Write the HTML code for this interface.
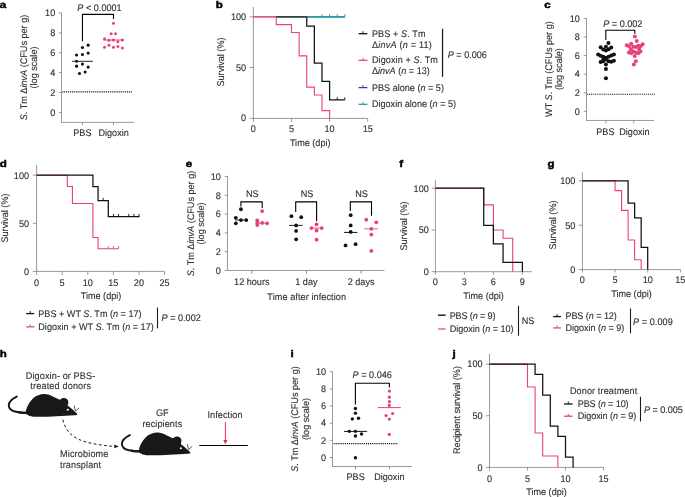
<!DOCTYPE html>
<html lang="en">
<head>
<meta charset="utf-8">
<title>Figure</title>
<style>
html,body{margin:0;padding:0;background:#fff;}
body{width:685px;height:497px;overflow:hidden;}
svg{display:block;}
svg text{font-family:"Liberation Sans",Arial,Helvetica,sans-serif;font-size:9.6px;fill:#303030;stroke:#303030;stroke-width:0.12px;text-rendering:geometricPrecision;}
</style>
</head>
<body>
<svg width="685" height="497" viewBox="0 0 685 497">
<rect x="0" y="0" width="685" height="497" fill="#ffffff"/>
<text style="font-weight:bold;font-size:9.8px;fill:#000;stroke:#000;stroke-width:0.45px" transform="translate(-0.30 7.60) scale(1.18 1)">a</text>
<line x1="61.50" y1="12.60" x2="61.50" y2="122.40" stroke="#787878" stroke-width="0.75" />
<line x1="61.20" y1="122.40" x2="134.00" y2="122.40" stroke="#787878" stroke-width="0.75" />
<line x1="58.70" y1="112.40" x2="61.50" y2="112.40" stroke="#787878" stroke-width="0.75" />
<text text-anchor="end" transform="translate(55.20 115.70) scale(0.948 1)">0</text>
<line x1="58.70" y1="92.52" x2="61.50" y2="92.52" stroke="#787878" stroke-width="0.75" />
<text text-anchor="end" transform="translate(55.20 95.82) scale(0.948 1)">2</text>
<line x1="58.70" y1="72.64" x2="61.50" y2="72.64" stroke="#787878" stroke-width="0.75" />
<text text-anchor="end" transform="translate(55.20 75.94) scale(0.948 1)">4</text>
<line x1="58.70" y1="52.76" x2="61.50" y2="52.76" stroke="#787878" stroke-width="0.75" />
<text text-anchor="end" transform="translate(55.20 56.06) scale(0.948 1)">6</text>
<line x1="58.70" y1="32.88" x2="61.50" y2="32.88" stroke="#787878" stroke-width="0.75" />
<text text-anchor="end" transform="translate(55.20 36.18) scale(0.948 1)">8</text>
<line x1="58.70" y1="13.00" x2="61.50" y2="13.00" stroke="#787878" stroke-width="0.75" />
<text text-anchor="end" transform="translate(55.20 16.30) scale(0.948 1)">10</text>
<line x1="82.40" y1="122.40" x2="82.40" y2="125.40" stroke="#787878" stroke-width="0.75" />
<line x1="113.40" y1="122.40" x2="113.40" y2="125.40" stroke="#787878" stroke-width="0.75" />
<line x1="62.40" y1="91.90" x2="132.20" y2="91.90" stroke="#000" stroke-width="1.35" stroke-dasharray="0.95 0.95"/>
<text text-anchor="middle" transform="translate(82.40 135.70) scale(0.948 1)">PBS</text>
<text text-anchor="middle" transform="translate(113.60 135.70) scale(0.948 1)">Digoxin</text>
<text text-anchor="middle" transform="translate(99.50 10.80) scale(0.948 1)"><tspan font-style="italic">P</tspan> &lt; 0.0001</text>
<path d="M82.45,41.20L82.45,14.40L113.50,14.40L113.50,19.00" stroke="#000" stroke-width="1.1" fill="none" />
<circle cx="88.15" cy="45.14" r="1.55" fill="#111111"/>
<circle cx="82.45" cy="47.48" r="1.55" fill="#111111"/>
<circle cx="88.15" cy="53.08" r="1.55" fill="#111111"/>
<circle cx="82.45" cy="54.49" r="1.55" fill="#111111"/>
<circle cx="76.56" cy="54.95" r="1.55" fill="#111111"/>
<circle cx="76.56" cy="61.31" r="1.55" fill="#111111"/>
<circle cx="82.45" cy="64.11" r="1.55" fill="#111111"/>
<circle cx="76.56" cy="66.17" r="1.55" fill="#111111"/>
<circle cx="88.15" cy="67.10" r="1.55" fill="#111111"/>
<circle cx="85.16" cy="71.96" r="1.55" fill="#111111"/>
<circle cx="79.46" cy="73.46" r="1.55" fill="#111111"/>
<line x1="72.10" y1="61.30" x2="92.90" y2="61.30" stroke="#222" stroke-width="1.0" />
<circle cx="113.48" cy="23.21" r="1.5" fill="#e8407c"/>
<circle cx="111.14" cy="33.68" r="1.5" fill="#e8407c"/>
<circle cx="115.53" cy="33.87" r="1.5" fill="#e8407c"/>
<circle cx="104.50" cy="38.64" r="1.5" fill="#e8407c"/>
<circle cx="108.99" cy="40.32" r="1.5" fill="#e8407c"/>
<circle cx="113.48" cy="40.04" r="1.5" fill="#e8407c"/>
<circle cx="117.87" cy="41.72" r="1.5" fill="#e8407c"/>
<circle cx="122.36" cy="40.04" r="1.5" fill="#e8407c"/>
<circle cx="104.50" cy="47.33" r="1.5" fill="#e8407c"/>
<circle cx="108.99" cy="45.36" r="1.5" fill="#e8407c"/>
<circle cx="113.48" cy="47.33" r="1.5" fill="#e8407c"/>
<circle cx="117.87" cy="46.39" r="1.5" fill="#e8407c"/>
<circle cx="122.36" cy="47.98" r="1.5" fill="#e8407c"/>
<line x1="103.38" y1="40.04" x2="123.48" y2="40.04" stroke="#e8407c" stroke-width="1.0" />
<text text-anchor="middle" transform="translate(26.70 67.50) rotate(-90) scale(0.948 1)"><tspan font-style="italic">S</tspan>. Tm Δ<tspan font-style="italic">invA</tspan> (CFUs per g)</text>
<text text-anchor="middle" transform="translate(36.60 67.50) rotate(-90) scale(0.948 1)">(log scale)</text>
<text style="font-weight:bold;font-size:9.8px;fill:#000;stroke:#000;stroke-width:0.45px" transform="translate(215.80 7.60) scale(1.18 1)">b</text>
<line x1="253.40" y1="7.00" x2="253.40" y2="118.40" stroke="#787878" stroke-width="0.75" />
<line x1="253.10" y1="118.40" x2="367.70" y2="118.40" stroke="#787878" stroke-width="0.75" />
<line x1="249.60" y1="118.40" x2="253.40" y2="118.40" stroke="#787878" stroke-width="0.75" />
<text text-anchor="end" transform="translate(246.10 121.40) scale(0.948 1)">0</text>
<line x1="249.60" y1="67.60" x2="253.40" y2="67.60" stroke="#787878" stroke-width="0.75" />
<text text-anchor="end" transform="translate(246.10 70.60) scale(0.948 1)">50</text>
<line x1="249.60" y1="16.80" x2="253.40" y2="16.80" stroke="#787878" stroke-width="0.75" />
<text text-anchor="end" transform="translate(246.10 19.80) scale(0.948 1)">100</text>
<line x1="253.40" y1="118.40" x2="253.40" y2="121.90" stroke="#787878" stroke-width="0.75" />
<text text-anchor="middle" transform="translate(253.40 132.20) scale(0.948 1)">0</text>
<line x1="291.50" y1="118.40" x2="291.50" y2="121.90" stroke="#787878" stroke-width="0.75" />
<text text-anchor="middle" transform="translate(291.50 132.20) scale(0.948 1)">5</text>
<line x1="329.60" y1="118.40" x2="329.60" y2="121.90" stroke="#787878" stroke-width="0.75" />
<text text-anchor="middle" transform="translate(329.60 132.20) scale(0.948 1)">10</text>
<line x1="367.70" y1="118.40" x2="367.70" y2="121.90" stroke="#787878" stroke-width="0.75" />
<text text-anchor="middle" transform="translate(367.70 132.20) scale(0.948 1)">15</text>
<text text-anchor="middle" transform="translate(310.20 145.70) scale(0.948 1)">Time (dpi)</text>
<text text-anchor="middle" transform="translate(224.00 62.00) rotate(-90) scale(0.948 1)">Survival (%)</text>
<path d="M306.74,16.80L344.84,16.80" stroke="#4b3590" stroke-width="0.6" fill="none" stroke-linejoin="miter"/>
<path d="M306.74,16.80L344.84,16.80" stroke="#239aa2" stroke-width="1.25" fill="none" stroke-linejoin="miter"/>
<line x1="321.98" y1="16.80" x2="321.98" y2="14.10" stroke="#239aa2" stroke-width="0.9" />
<line x1="329.60" y1="16.80" x2="329.60" y2="14.10" stroke="#239aa2" stroke-width="0.9" />
<line x1="337.22" y1="16.80" x2="337.22" y2="14.10" stroke="#239aa2" stroke-width="0.9" />
<line x1="344.84" y1="16.80" x2="344.84" y2="14.10" stroke="#239aa2" stroke-width="0.9" />
<path d="M276.26,16.80L306.74,16.80L306.74,26.05L314.36,26.05L314.36,63.03L321.98,63.03L321.98,81.42L329.60,81.42L329.60,99.91L344.84,99.91" stroke="#111111" stroke-width="1.25" fill="none" stroke-linejoin="miter"/>
<line x1="337.22" y1="99.91" x2="337.22" y2="97.21" stroke="#111111" stroke-width="0.9" />
<line x1="344.84" y1="99.91" x2="344.84" y2="97.21" stroke="#111111" stroke-width="0.9" />
<path d="M253.40,16.80L276.26,16.80L276.26,24.62L291.50,24.62L291.50,32.45L299.12,32.45L299.12,55.92L306.74,55.92L306.74,87.11L314.36,87.11L314.36,94.93L321.98,94.93L321.98,110.58L329.60,110.58L329.60,118.40" stroke="#e8407c" stroke-width="1.1" fill="none" stroke-linejoin="miter"/>
<line x1="306.74" y1="16.80" x2="344.84" y2="16.80" stroke="#239aa2" stroke-width="1.5" />
<line x1="275.66" y1="16.80" x2="307.34" y2="16.80" stroke="#344444" stroke-width="1.6" />
<line x1="253.40" y1="16.80" x2="275.66" y2="16.80" stroke="#d85a86" stroke-width="1.6" />
<line x1="358.60" y1="33.70" x2="367.40" y2="33.70" stroke="#111111" stroke-width="1.3" />
<line x1="363.00" y1="33.70" x2="363.00" y2="31.20" stroke="#111111" stroke-width="0.9" />
<text transform="translate(371.90 36.80) scale(0.948 1)" textLength="56.65" lengthAdjust="spacing">PBS + <tspan font-style="italic">S</tspan>. Tm</text>
<text transform="translate(371.90 47.60) scale(0.948 1)" textLength="63.19" lengthAdjust="spacing">Δ<tspan font-style="italic">invA</tspan> (<tspan font-style="italic">n</tspan> = 11)</text>
<line x1="358.60" y1="60.30" x2="367.40" y2="60.30" stroke="#e8407c" stroke-width="1.3" />
<line x1="363.00" y1="60.30" x2="363.00" y2="57.80" stroke="#e8407c" stroke-width="0.9" />
<text transform="translate(371.90 62.90) scale(0.948 1)" textLength="69.62" lengthAdjust="spacing">Digoxin + <tspan font-style="italic">S</tspan>. Tm</text>
<text transform="translate(371.90 73.50) scale(0.948 1)">Δ<tspan font-style="italic">invA</tspan> (<tspan font-style="italic">n</tspan> = 13)</text>
<line x1="358.60" y1="87.60" x2="367.40" y2="87.60" stroke="#4b3590" stroke-width="1.3" />
<line x1="363.00" y1="87.60" x2="363.00" y2="85.10" stroke="#4b3590" stroke-width="0.9" />
<text transform="translate(371.90 91.00) scale(0.948 1)">PBS alone (<tspan font-style="italic">n</tspan> = 5)</text>
<line x1="358.60" y1="104.30" x2="367.40" y2="104.30" stroke="#239aa2" stroke-width="1.3" />
<line x1="363.00" y1="104.30" x2="363.00" y2="101.80" stroke="#239aa2" stroke-width="0.9" />
<text transform="translate(371.90 107.20) scale(0.948 1)">Digoxin alone (<tspan font-style="italic">n</tspan> = 5)</text>
<line x1="442.55" y1="28.80" x2="442.55" y2="76.80" stroke="#1a1a1a" stroke-width="1.25" />
<text transform="translate(447.70 58.40) scale(0.948 1)"><tspan font-style="italic">P</tspan> = 0.006</text>
<text style="font-weight:bold;font-size:9.8px;fill:#000;stroke:#000;stroke-width:0.45px" transform="translate(544.30 7.60) scale(1.18 1)">c</text>
<line x1="586.50" y1="18.00" x2="586.50" y2="120.45" stroke="#787878" stroke-width="0.75" />
<line x1="586.20" y1="120.45" x2="654.00" y2="120.45" stroke="#787878" stroke-width="0.75" />
<line x1="583.70" y1="111.35" x2="586.50" y2="111.35" stroke="#787878" stroke-width="0.75" />
<text text-anchor="end" transform="translate(579.80 114.65) scale(0.948 1)">0</text>
<line x1="583.70" y1="92.76" x2="586.50" y2="92.76" stroke="#787878" stroke-width="0.75" />
<text text-anchor="end" transform="translate(579.80 96.06) scale(0.948 1)">2</text>
<line x1="583.70" y1="74.17" x2="586.50" y2="74.17" stroke="#787878" stroke-width="0.75" />
<text text-anchor="end" transform="translate(579.80 77.47) scale(0.948 1)">4</text>
<line x1="583.70" y1="55.58" x2="586.50" y2="55.58" stroke="#787878" stroke-width="0.75" />
<text text-anchor="end" transform="translate(579.80 58.88) scale(0.948 1)">6</text>
<line x1="583.70" y1="36.99" x2="586.50" y2="36.99" stroke="#787878" stroke-width="0.75" />
<text text-anchor="end" transform="translate(579.80 40.29) scale(0.948 1)">8</text>
<line x1="583.70" y1="18.40" x2="586.50" y2="18.40" stroke="#787878" stroke-width="0.75" />
<text text-anchor="end" transform="translate(579.80 21.70) scale(0.948 1)">10</text>
<line x1="606.00" y1="120.45" x2="606.00" y2="123.45" stroke="#787878" stroke-width="0.75" />
<line x1="633.70" y1="120.45" x2="633.70" y2="123.45" stroke="#787878" stroke-width="0.75" />
<line x1="587.20" y1="94.30" x2="655.00" y2="94.30" stroke="#000" stroke-width="1.05" stroke-dasharray="0.95 0.95"/>
<text text-anchor="middle" transform="translate(605.40 134.50) scale(0.948 1)">PBS</text>
<text text-anchor="middle" transform="translate(634.40 134.50) scale(0.948 1)">Digoxin</text>
<text text-anchor="middle" transform="translate(622.80 27.00) scale(0.948 1)"><tspan font-style="italic">P</tspan> = 0.002</text>
<path d="M605.80,39.90L605.80,30.20L634.80,30.20L634.80,33.70" stroke="#000" stroke-width="1.1" fill="none" />
<text text-anchor="middle" transform="translate(551.90 69.10) rotate(-90) scale(0.948 1)">WT <tspan font-style="italic">S</tspan>. Tm (CFUs per g)</text>
<text text-anchor="middle" transform="translate(562.20 69.10) rotate(-90) scale(0.948 1)">(log scale)</text>
<circle cx="608.41" cy="43.10" r="2.0" fill="#111111"/>
<circle cx="600.62" cy="47.26" r="2.0" fill="#111111"/>
<circle cx="605.93" cy="46.73" r="2.0" fill="#111111"/>
<circle cx="611.24" cy="47.52" r="2.0" fill="#111111"/>
<circle cx="603.27" cy="49.47" r="2.0" fill="#111111"/>
<circle cx="605.93" cy="50.44" r="2.0" fill="#111111"/>
<circle cx="608.58" cy="49.29" r="2.0" fill="#111111"/>
<circle cx="598.14" cy="54.60" r="2.0" fill="#111111"/>
<circle cx="600.62" cy="55.66" r="2.0" fill="#111111"/>
<circle cx="603.27" cy="56.81" r="2.0" fill="#111111"/>
<circle cx="605.93" cy="57.70" r="2.0" fill="#111111"/>
<circle cx="608.58" cy="56.64" r="2.0" fill="#111111"/>
<circle cx="611.24" cy="55.49" r="2.0" fill="#111111"/>
<circle cx="613.89" cy="54.42" r="2.0" fill="#111111"/>
<circle cx="603.27" cy="59.03" r="2.0" fill="#111111"/>
<circle cx="605.93" cy="59.29" r="2.0" fill="#111111"/>
<circle cx="600.62" cy="61.95" r="2.0" fill="#111111"/>
<circle cx="603.27" cy="61.24" r="2.0" fill="#111111"/>
<circle cx="608.58" cy="61.24" r="2.0" fill="#111111"/>
<circle cx="611.24" cy="61.68" r="2.0" fill="#111111"/>
<circle cx="613.89" cy="60.80" r="2.0" fill="#111111"/>
<circle cx="605.93" cy="64.60" r="2.0" fill="#111111"/>
<circle cx="605.93" cy="69.03" r="2.0" fill="#111111"/>
<circle cx="605.93" cy="78.23" r="2.0" fill="#111111"/>
<circle cx="636.73" cy="40.88" r="2.0" fill="#e8407c"/>
<circle cx="634.87" cy="36.46" r="2.0" fill="#e8407c"/>
<circle cx="626.73" cy="45.31" r="2.0" fill="#e8407c"/>
<circle cx="628.94" cy="46.19" r="2.0" fill="#e8407c"/>
<circle cx="631.15" cy="43.72" r="2.0" fill="#e8407c"/>
<circle cx="633.36" cy="46.64" r="2.0" fill="#e8407c"/>
<circle cx="636.02" cy="47.08" r="2.0" fill="#e8407c"/>
<circle cx="638.23" cy="45.75" r="2.0" fill="#e8407c"/>
<circle cx="640.44" cy="46.19" r="2.0" fill="#e8407c"/>
<circle cx="642.65" cy="44.16" r="2.0" fill="#e8407c"/>
<circle cx="628.94" cy="52.39" r="2.0" fill="#e8407c"/>
<circle cx="631.15" cy="53.27" r="2.0" fill="#e8407c"/>
<circle cx="633.36" cy="51.50" r="2.0" fill="#e8407c"/>
<circle cx="636.02" cy="52.39" r="2.0" fill="#e8407c"/>
<circle cx="638.23" cy="53.27" r="2.0" fill="#e8407c"/>
<circle cx="640.44" cy="51.50" r="2.0" fill="#e8407c"/>
<circle cx="634.69" cy="55.93" r="2.0" fill="#e8407c"/>
<circle cx="635.84" cy="61.24" r="2.0" fill="#e8407c"/>
<circle cx="633.81" cy="64.60" r="2.0" fill="#e8407c"/>
<circle cx="630.88" cy="49.29" r="2.0" fill="#e8407c"/>
<circle cx="639.12" cy="49.29" r="2.0" fill="#e8407c"/>
<text style="font-weight:bold;font-size:9.8px;fill:#000;stroke:#000;stroke-width:0.45px" transform="translate(-0.35 166.75) scale(1.18 1)">d</text>
<line x1="36.60" y1="165.00" x2="36.60" y2="271.40" stroke="#787878" stroke-width="0.75" />
<line x1="36.30" y1="271.40" x2="164.20" y2="271.40" stroke="#787878" stroke-width="0.75" />
<line x1="32.80" y1="271.40" x2="36.60" y2="271.40" stroke="#787878" stroke-width="0.75" />
<text text-anchor="end" transform="translate(29.00 274.80) scale(0.948 1)">0</text>
<line x1="32.80" y1="223.30" x2="36.60" y2="223.30" stroke="#787878" stroke-width="0.75" />
<text text-anchor="end" transform="translate(29.00 226.70) scale(0.948 1)">50</text>
<line x1="32.80" y1="175.20" x2="36.60" y2="175.20" stroke="#787878" stroke-width="0.75" />
<text text-anchor="end" transform="translate(29.00 178.60) scale(0.948 1)">100</text>
<line x1="36.60" y1="271.40" x2="36.60" y2="275.00" stroke="#787878" stroke-width="0.75" />
<text text-anchor="middle" transform="translate(36.50 285.90) scale(0.948 1)">0</text>
<line x1="62.20" y1="271.40" x2="62.20" y2="275.00" stroke="#787878" stroke-width="0.75" />
<text text-anchor="middle" transform="translate(62.10 285.90) scale(0.948 1)">5</text>
<line x1="87.80" y1="271.40" x2="87.80" y2="275.00" stroke="#787878" stroke-width="0.75" />
<text text-anchor="middle" transform="translate(87.70 285.90) scale(0.948 1)">10</text>
<line x1="113.40" y1="271.40" x2="113.40" y2="275.00" stroke="#787878" stroke-width="0.75" />
<text text-anchor="middle" transform="translate(113.30 285.90) scale(0.948 1)">15</text>
<line x1="139.00" y1="271.40" x2="139.00" y2="275.00" stroke="#787878" stroke-width="0.75" />
<text text-anchor="middle" transform="translate(138.90 285.90) scale(0.948 1)">20</text>
<line x1="164.60" y1="271.40" x2="164.60" y2="275.00" stroke="#787878" stroke-width="0.75" />
<text text-anchor="middle" transform="translate(164.50 285.90) scale(0.948 1)">25</text>
<text text-anchor="middle" transform="translate(101.00 298.80) scale(0.948 1)">Time (dpi)</text>
<text text-anchor="middle" transform="translate(8.00 218.00) rotate(-90) scale(0.948 1)">Survival (%)</text>
<path d="M36.60,175.20L67.32,175.20L67.32,186.55L72.44,186.55L72.44,203.48L92.92,203.48L92.92,237.44L98.04,237.44L98.04,248.79L118.52,248.79" stroke="#e8407c" stroke-width="1.1" fill="none" stroke-linejoin="miter"/>
<line x1="108.28" y1="248.79" x2="108.28" y2="246.09" stroke="#e8407c" stroke-width="0.9" />
<line x1="113.40" y1="248.79" x2="113.40" y2="246.09" stroke="#e8407c" stroke-width="0.9" />
<line x1="118.52" y1="248.79" x2="118.52" y2="246.09" stroke="#e8407c" stroke-width="0.9" />
<path d="M36.60,175.20L92.92,175.20L92.92,186.55L98.04,186.55L98.04,200.60L108.28,200.60L108.28,216.57L139.51,216.57" stroke="#111111" stroke-width="1.25" fill="none" stroke-linejoin="miter"/>
<line x1="103.16" y1="200.60" x2="103.16" y2="197.90" stroke="#111111" stroke-width="0.9" />
<line x1="113.40" y1="216.57" x2="113.40" y2="213.87" stroke="#111111" stroke-width="0.9" />
<line x1="118.52" y1="216.57" x2="118.52" y2="213.87" stroke="#111111" stroke-width="0.9" />
<line x1="128.76" y1="216.57" x2="128.76" y2="213.87" stroke="#111111" stroke-width="0.9" />
<line x1="133.88" y1="216.57" x2="133.88" y2="213.87" stroke="#111111" stroke-width="0.9" />
<line x1="139.00" y1="216.57" x2="139.00" y2="213.87" stroke="#111111" stroke-width="0.9" />
<line x1="26.20" y1="313.60" x2="34.30" y2="313.60" stroke="#111111" stroke-width="1.3" />
<line x1="30.25" y1="313.60" x2="30.25" y2="311.10" stroke="#111111" stroke-width="0.9" />
<text transform="translate(38.30 316.70) scale(0.948 1)">PBS + WT <tspan font-style="italic">S</tspan>. Tm (<tspan font-style="italic">n</tspan> = 17)</text>
<line x1="26.20" y1="326.80" x2="34.30" y2="326.80" stroke="#e8407c" stroke-width="1.3" />
<line x1="30.25" y1="326.80" x2="30.25" y2="324.30" stroke="#e8407c" stroke-width="0.9" />
<text transform="translate(38.30 330.30) scale(0.948 1)">Digoxin + WT <tspan font-style="italic">S</tspan>. Tm (<tspan font-style="italic">n</tspan> = 17)</text>
<line x1="157.50" y1="307.50" x2="157.50" y2="328.30" stroke="#1a1a1a" stroke-width="1.1" />
<text transform="translate(161.60 321.30) scale(0.948 1)"><tspan font-style="italic">P</tspan> = 0.002</text>
<text style="font-weight:bold;font-size:9.8px;fill:#000;stroke:#000;stroke-width:0.45px" transform="translate(185.70 166.75) scale(1.18 1)">e</text>
<line x1="227.45" y1="176.00" x2="227.45" y2="270.50" stroke="#787878" stroke-width="0.75" />
<line x1="227.15" y1="270.50" x2="384.60" y2="270.50" stroke="#787878" stroke-width="0.75" />
<line x1="224.65" y1="270.45" x2="227.45" y2="270.45" stroke="#787878" stroke-width="0.75" />
<text text-anchor="end" transform="translate(220.85 273.75) scale(0.948 1)">0</text>
<line x1="224.65" y1="251.64" x2="227.45" y2="251.64" stroke="#787878" stroke-width="0.75" />
<text text-anchor="end" transform="translate(220.85 254.94) scale(0.948 1)">2</text>
<line x1="224.65" y1="232.83" x2="227.45" y2="232.83" stroke="#787878" stroke-width="0.75" />
<text text-anchor="end" transform="translate(220.85 236.13) scale(0.948 1)">4</text>
<line x1="224.65" y1="214.02" x2="227.45" y2="214.02" stroke="#787878" stroke-width="0.75" />
<text text-anchor="end" transform="translate(220.85 217.32) scale(0.948 1)">6</text>
<line x1="224.65" y1="195.21" x2="227.45" y2="195.21" stroke="#787878" stroke-width="0.75" />
<text text-anchor="end" transform="translate(220.85 198.51) scale(0.948 1)">8</text>
<line x1="224.65" y1="176.40" x2="227.45" y2="176.40" stroke="#787878" stroke-width="0.75" />
<text text-anchor="end" transform="translate(220.85 179.70) scale(0.948 1)">10</text>
<line x1="251.80" y1="270.50" x2="251.80" y2="273.70" stroke="#787878" stroke-width="0.85" />
<text text-anchor="middle" transform="translate(251.80 284.80) scale(0.948 1)">12 hours</text>
<line x1="306.40" y1="270.50" x2="306.40" y2="273.70" stroke="#787878" stroke-width="0.85" />
<text text-anchor="middle" transform="translate(306.40 284.80) scale(0.948 1)">1 day</text>
<line x1="361.10" y1="270.50" x2="361.10" y2="273.70" stroke="#787878" stroke-width="0.85" />
<text text-anchor="middle" transform="translate(361.10 284.80) scale(0.948 1)">2 days</text>
<text text-anchor="middle" transform="translate(306.70 299.80) scale(0.948 1)" textLength="83.02" lengthAdjust="spacing">Time after infection</text>
<text text-anchor="middle" transform="translate(193.50 223.50) rotate(-90) scale(0.948 1)"><tspan font-style="italic">S</tspan>. Tm Δ<tspan font-style="italic">invA</tspan> (CFUs per g)</text>
<text text-anchor="middle" transform="translate(204.00 223.50) rotate(-90) scale(0.948 1)">(log scale)</text>
<text text-anchor="middle" transform="translate(252.20 197.40) scale(0.948 1)">NS</text>
<text text-anchor="middle" transform="translate(307.00 197.40) scale(0.948 1)">NS</text>
<text text-anchor="middle" transform="translate(361.50 197.40) scale(0.948 1)">NS</text>
<path d="M240.90,206.60L240.90,201.90L262.20,201.90L262.20,208.00" stroke="#000" stroke-width="1.1" fill="none" />
<path d="M295.70,212.10L295.70,201.90L316.60,201.90L316.60,221.30" stroke="#000" stroke-width="1.1" fill="none" />
<path d="M350.30,211.10L350.30,201.90L371.50,201.90L371.50,215.80" stroke="#000" stroke-width="1.1" fill="none" />
<circle cx="240.92" cy="209.25" r="1.9" fill="#111111"/>
<circle cx="235.81" cy="217.84" r="1.9" fill="#111111"/>
<circle cx="240.92" cy="220.09" r="1.9" fill="#111111"/>
<circle cx="246.23" cy="220.09" r="1.9" fill="#111111"/>
<circle cx="235.81" cy="223.36" r="1.9" fill="#111111"/>
<line x1="235.40" y1="220.09" x2="247.66" y2="220.09" stroke="#111111" stroke-width="0.9" />
<circle cx="262.17" cy="211.09" r="1.9" fill="#e8407c"/>
<circle cx="257.27" cy="220.29" r="1.9" fill="#e8407c"/>
<circle cx="257.27" cy="222.74" r="1.9" fill="#e8407c"/>
<circle cx="257.27" cy="224.99" r="1.9" fill="#e8407c"/>
<circle cx="262.17" cy="222.95" r="1.9" fill="#e8407c"/>
<circle cx="267.08" cy="223.36" r="1.9" fill="#e8407c"/>
<line x1="255.84" y1="223.15" x2="268.51" y2="223.15" stroke="#e8407c" stroke-width="0.9" />
<circle cx="291.43" cy="216.20" r="1.9" fill="#111111"/>
<circle cx="301.24" cy="217.22" r="1.9" fill="#111111"/>
<circle cx="296.13" cy="225.40" r="1.9" fill="#111111"/>
<circle cx="296.13" cy="230.92" r="1.9" fill="#111111"/>
<circle cx="296.13" cy="239.30" r="1.9" fill="#111111"/>
<line x1="288.98" y1="225.40" x2="302.67" y2="225.40" stroke="#111111" stroke-width="0.9" />
<circle cx="316.57" cy="224.38" r="1.9" fill="#e8407c"/>
<circle cx="311.46" cy="228.06" r="1.9" fill="#e8407c"/>
<circle cx="321.68" cy="228.06" r="1.9" fill="#e8407c"/>
<circle cx="316.57" cy="230.51" r="1.9" fill="#e8407c"/>
<circle cx="316.57" cy="239.71" r="1.9" fill="#e8407c"/>
<line x1="310.03" y1="228.06" x2="323.11" y2="228.06" stroke="#e8407c" stroke-width="0.9" />
<circle cx="350.70" cy="215.18" r="1.9" fill="#111111"/>
<circle cx="350.70" cy="225.40" r="1.9" fill="#111111"/>
<circle cx="350.70" cy="231.94" r="1.9" fill="#111111"/>
<circle cx="345.59" cy="245.43" r="1.9" fill="#111111"/>
<circle cx="355.60" cy="244.20" r="1.9" fill="#111111"/>
<line x1="343.95" y1="232.40" x2="357.44" y2="232.40" stroke="#111111" stroke-width="1.0" />
<circle cx="366.23" cy="219.68" r="1.9" fill="#e8407c"/>
<circle cx="376.25" cy="222.33" r="1.9" fill="#e8407c"/>
<circle cx="371.34" cy="228.87" r="1.9" fill="#e8407c"/>
<circle cx="371.34" cy="234.60" r="1.9" fill="#e8407c"/>
<circle cx="371.34" cy="250.95" r="1.9" fill="#e8407c"/>
<line x1="364.39" y1="228.87" x2="377.88" y2="228.87" stroke="#e8407c" stroke-width="0.9" />
<text style="font-weight:bold;font-size:9.8px;fill:#000;stroke:#000;stroke-width:0.45px" transform="translate(399.20 166.75) scale(1.18 1)">f</text>
<line x1="435.40" y1="179.80" x2="435.40" y2="271.70" stroke="#787878" stroke-width="0.75" />
<line x1="435.10" y1="271.70" x2="532.00" y2="271.70" stroke="#787878" stroke-width="0.75" />
<line x1="431.60" y1="271.70" x2="435.40" y2="271.70" stroke="#787878" stroke-width="0.75" />
<text text-anchor="end" transform="translate(428.80 275.00) scale(0.948 1)">0</text>
<line x1="431.60" y1="229.95" x2="435.40" y2="229.95" stroke="#787878" stroke-width="0.75" />
<text text-anchor="end" transform="translate(428.80 233.25) scale(0.948 1)">50</text>
<line x1="431.60" y1="188.20" x2="435.40" y2="188.20" stroke="#787878" stroke-width="0.75" />
<text text-anchor="end" transform="translate(428.80 191.50) scale(0.948 1)">100</text>
<line x1="435.40" y1="271.70" x2="435.40" y2="274.60" stroke="#787878" stroke-width="0.75" />
<text text-anchor="middle" transform="translate(435.40 285.40) scale(0.948 1)">0</text>
<line x1="464.40" y1="271.70" x2="464.40" y2="274.60" stroke="#787878" stroke-width="0.75" />
<text text-anchor="middle" transform="translate(464.40 285.40) scale(0.948 1)">3</text>
<line x1="493.40" y1="271.70" x2="493.40" y2="274.60" stroke="#787878" stroke-width="0.75" />
<text text-anchor="middle" transform="translate(493.40 285.40) scale(0.948 1)">6</text>
<line x1="522.40" y1="271.70" x2="522.40" y2="274.60" stroke="#787878" stroke-width="0.75" />
<text text-anchor="middle" transform="translate(522.40 285.40) scale(0.948 1)">9</text>
<text text-anchor="middle" transform="translate(483.60 298.70) scale(0.948 1)">Time (dpi)</text>
<text text-anchor="middle" transform="translate(407.00 226.00) rotate(-90) scale(0.948 1)">Survival (%)</text>
<path d="M435.40,188.20L483.73,188.20L483.73,204.90L493.40,204.90L493.40,229.95L503.07,229.95L503.07,238.30L512.74,238.30L512.74,271.70" stroke="#e8407c" stroke-width="1.1" fill="none" stroke-linejoin="miter"/>
<path d="M435.40,188.20L483.73,188.20L483.73,225.27L493.40,225.27L493.40,243.89L503.07,243.89L503.07,262.43L522.40,262.43L522.40,271.70" stroke="#111111" stroke-width="1.25" fill="none" stroke-linejoin="miter"/>
<line x1="438.00" y1="315.20" x2="445.60" y2="315.20" stroke="#111111" stroke-width="1.4" />
<text transform="translate(449.70 318.70) scale(0.948 1)" textLength="48.31" lengthAdjust="spacing">PBS (<tspan font-style="italic">n</tspan> = 9)</text>
<line x1="438.00" y1="329.00" x2="445.60" y2="329.00" stroke="#e8407c" stroke-width="1.2" />
<text transform="translate(449.70 332.40) scale(0.948 1)" textLength="67.30" lengthAdjust="spacing">Digoxin (<tspan font-style="italic">n</tspan> = 10)</text>
<line x1="518.50" y1="305.80" x2="518.50" y2="335.80" stroke="#1a1a1a" stroke-width="1.1" />
<text transform="translate(521.80 323.80) scale(0.948 1)">NS</text>
<text style="font-weight:bold;font-size:9.8px;fill:#000;stroke:#000;stroke-width:0.45px" transform="translate(547.50 166.75) scale(1.18 1)">g</text>
<line x1="582.40" y1="172.30" x2="582.40" y2="269.60" stroke="#787878" stroke-width="0.75" />
<line x1="582.10" y1="269.60" x2="680.50" y2="269.60" stroke="#787878" stroke-width="0.75" />
<line x1="578.60" y1="269.60" x2="582.40" y2="269.60" stroke="#787878" stroke-width="0.75" />
<text text-anchor="end" transform="translate(575.40 272.90) scale(0.948 1)">0</text>
<line x1="578.60" y1="225.20" x2="582.40" y2="225.20" stroke="#787878" stroke-width="0.75" />
<text text-anchor="end" transform="translate(575.40 228.50) scale(0.948 1)">50</text>
<line x1="578.60" y1="180.80" x2="582.40" y2="180.80" stroke="#787878" stroke-width="0.75" />
<text text-anchor="end" transform="translate(575.40 184.10) scale(0.948 1)">100</text>
<line x1="582.40" y1="269.60" x2="582.40" y2="272.50" stroke="#787878" stroke-width="0.75" />
<text text-anchor="middle" transform="translate(582.40 283.30) scale(0.948 1)">0</text>
<line x1="615.05" y1="269.60" x2="615.05" y2="272.50" stroke="#787878" stroke-width="0.75" />
<text text-anchor="middle" transform="translate(615.05 283.30) scale(0.948 1)">5</text>
<line x1="647.70" y1="269.60" x2="647.70" y2="272.50" stroke="#787878" stroke-width="0.75" />
<text text-anchor="middle" transform="translate(647.70 283.30) scale(0.948 1)">10</text>
<line x1="680.35" y1="269.60" x2="680.35" y2="272.50" stroke="#787878" stroke-width="0.75" />
<text text-anchor="middle" transform="translate(680.35 283.30) scale(0.948 1)">15</text>
<text text-anchor="middle" transform="translate(631.50 297.00) scale(0.948 1)">Time (dpi)</text>
<text text-anchor="middle" transform="translate(555.50 225.00) rotate(-90) scale(0.948 1)">Survival (%)</text>
<path d="M582.40,180.80L615.05,180.80L615.05,190.66L621.58,190.66L621.58,210.37L628.11,210.37L628.11,240.03L634.64,240.03L634.64,259.74L641.17,259.74L641.17,269.60" stroke="#e8407c" stroke-width="1.1" fill="none" stroke-linejoin="miter"/>
<path d="M582.40,180.80L628.11,180.80L628.11,203.00L634.64,203.00L634.64,217.83L641.17,217.83L641.17,247.40L647.70,247.40L647.70,269.60" stroke="#111111" stroke-width="1.25" fill="none" stroke-linejoin="miter"/>
<line x1="553.20" y1="316.60" x2="560.90" y2="316.60" stroke="#111111" stroke-width="1.3" />
<line x1="557.05" y1="316.60" x2="557.05" y2="314.10" stroke="#111111" stroke-width="0.9" />
<text transform="translate(565.40 319.10) scale(0.948 1)" textLength="54.32" lengthAdjust="spacing">PBS (<tspan font-style="italic">n</tspan> = 12)</text>
<line x1="553.20" y1="327.90" x2="560.90" y2="327.90" stroke="#e8407c" stroke-width="1.3" />
<line x1="557.05" y1="327.90" x2="557.05" y2="325.40" stroke="#e8407c" stroke-width="0.9" />
<text transform="translate(565.40 330.70) scale(0.948 1)" textLength="62.13" lengthAdjust="spacing">Digoxin (<tspan font-style="italic">n</tspan> = 9)</text>
<line x1="630.50" y1="308.50" x2="630.50" y2="333.30" stroke="#1a1a1a" stroke-width="1.1" />
<text transform="translate(632.90 324.80) scale(0.948 1)" textLength="42.09" lengthAdjust="spacing"><tspan font-style="italic">P</tspan> = 0.009</text>
<text style="font-weight:bold;font-size:9.8px;fill:#000;stroke:#000;stroke-width:0.45px" transform="translate(-0.20 356.75) scale(1.18 1)">h</text>
<text text-anchor="middle" transform="translate(60.50 378.80) scale(0.948 1)" textLength="73.21" lengthAdjust="spacing">Digoxin- or PBS-</text>
<text text-anchor="middle" transform="translate(60.70 389.30) scale(0.948 1)" textLength="64.03" lengthAdjust="spacing">treated donors</text>
<text text-anchor="middle" transform="translate(162.30 416.20) scale(0.948 1)">GF</text>
<text text-anchor="middle" transform="translate(162.30 426.70) scale(0.948 1)" textLength="41.98" lengthAdjust="spacing">recipients</text>
<text text-anchor="middle" transform="translate(225.00 417.60) scale(0.948 1)" textLength="36.92" lengthAdjust="spacing">Infection</text>
<text transform="translate(60.00 457.20) scale(0.948 1)" textLength="51.05" lengthAdjust="spacing">Microbiome</text>
<text transform="translate(60.00 467.90) scale(0.948 1)" textLength="43.35" lengthAdjust="spacing">transplant</text>
<line x1="199.20" y1="445.50" x2="247.80" y2="445.50" stroke="#000" stroke-width="1.1" />
<line x1="225.40" y1="422.00" x2="225.40" y2="441.00" stroke="#ee2f4c" stroke-width="1.0" />
<path d="M223.3,439.9L227.5,439.9L225.4,444.2Z" fill="#ea2544"/>
<path d="M62.85,419.7C67.5,438.3 80.8,443.3 114,446.45" stroke="#1a1a1a" stroke-width="1.0" fill="none" stroke-dasharray="2.8 2.45"/>
<path d="M114.3,444.6L118.6,446.4L114.3,448.2Z" fill="#111"/>
<g transform="translate(4,388) scale(0.11679)"><path d="M200,213 C170,213 135,211 102,204 C66,196 41,176 41,148 C41,120 70,93 109,74" fill="none" stroke="#1a1718" stroke-width="17" stroke-linecap="round"/><path d="M200,213 C170,213 150,212 125,208" fill="none" stroke="#1a1718" stroke-width="19" stroke-linecap="round"/><path d="M185,214 C188,180 205,135 245,92 C275,62 315,50 350,51 C385,53 420,72 450,88 C462,94 472,99 481,101 C488,91 502,85 517,86 C537,87 551,102 551,122 C551,133 548,142 545,150 C565,165 590,187 610,205 C618,212 627,219 627,224 C627,229 615,232 600,233 C560,237 500,240 450,241 C400,243 330,247 270,246 C240,246 222,241 208,233 C196,227 187,222 185,214 Z" fill="#1a1718"/><circle cx="546" cy="186" r="9" fill="#fff"/><path d="M612,198 L601,150 M612,198 L643,170" fill="none" stroke="#3a3a3a" stroke-width="7"/></g>
<g transform="translate(117.1,426.5) scale(0.11679)"><path d="M200,213 C170,213 135,211 102,204 C66,196 41,176 41,148 C41,120 70,93 109,74" fill="none" stroke="#1a1718" stroke-width="17" stroke-linecap="round"/><path d="M200,213 C170,213 150,212 125,208" fill="none" stroke="#1a1718" stroke-width="19" stroke-linecap="round"/><path d="M185,214 C188,180 205,135 245,92 C275,62 315,50 350,51 C385,53 420,72 450,88 C462,94 472,99 481,101 C488,91 502,85 517,86 C537,87 551,102 551,122 C551,133 548,142 545,150 C565,165 590,187 610,205 C618,212 627,219 627,224 C627,229 615,232 600,233 C560,237 500,240 450,241 C400,243 330,247 270,246 C240,246 222,241 208,233 C196,227 187,222 185,214 Z" fill="#1a1718"/><circle cx="546" cy="186" r="9" fill="#fff"/><path d="M612,198 L601,150 M612,198 L643,170" fill="none" stroke="#3a3a3a" stroke-width="7"/></g>
<text style="font-weight:bold;font-size:9.8px;fill:#000;stroke:#000;stroke-width:0.45px" transform="translate(290.40 356.75) scale(1.18 1)">i</text>
<line x1="332.50" y1="371.40" x2="332.50" y2="466.50" stroke="#787878" stroke-width="0.75" />
<line x1="332.20" y1="466.50" x2="412.00" y2="466.50" stroke="#787878" stroke-width="0.75" />
<line x1="329.70" y1="457.50" x2="332.50" y2="457.50" stroke="#787878" stroke-width="0.75" />
<text text-anchor="end" transform="translate(326.00 460.80) scale(0.948 1)">0</text>
<line x1="329.70" y1="440.34" x2="332.50" y2="440.34" stroke="#787878" stroke-width="0.75" />
<text text-anchor="end" transform="translate(326.00 443.64) scale(0.948 1)">2</text>
<line x1="329.70" y1="423.18" x2="332.50" y2="423.18" stroke="#787878" stroke-width="0.75" />
<text text-anchor="end" transform="translate(326.00 426.48) scale(0.948 1)">4</text>
<line x1="329.70" y1="406.02" x2="332.50" y2="406.02" stroke="#787878" stroke-width="0.75" />
<text text-anchor="end" transform="translate(326.00 409.32) scale(0.948 1)">6</text>
<line x1="329.70" y1="388.86" x2="332.50" y2="388.86" stroke="#787878" stroke-width="0.75" />
<text text-anchor="end" transform="translate(326.00 392.16) scale(0.948 1)">8</text>
<line x1="329.70" y1="371.70" x2="332.50" y2="371.70" stroke="#787878" stroke-width="0.75" />
<text text-anchor="end" transform="translate(326.00 375.00) scale(0.948 1)">10</text>
<line x1="355.40" y1="466.50" x2="355.40" y2="469.50" stroke="#787878" stroke-width="0.75" />
<line x1="389.40" y1="466.50" x2="389.40" y2="469.50" stroke="#787878" stroke-width="0.75" />
<line x1="333.80" y1="443.60" x2="398.10" y2="443.60" stroke="#000" stroke-width="1.05" stroke-dasharray="0.95 0.95"/>
<text text-anchor="middle" transform="translate(355.60 479.80) scale(0.948 1)">PBS</text>
<text text-anchor="middle" transform="translate(389.30 479.80) scale(0.948 1)">Digoxin</text>
<text text-anchor="middle" transform="translate(372.20 378.40) scale(0.948 1)"><tspan font-style="italic">P</tspan> = 0.046</text>
<path d="M355.40,404.40L355.40,383.30L389.40,383.30L389.40,387.40" stroke="#000" stroke-width="1.1" fill="none" />
<circle cx="355.43" cy="408.47" r="1.7" fill="#111111"/>
<circle cx="355.43" cy="413.17" r="1.7" fill="#111111"/>
<circle cx="352.36" cy="418.89" r="1.7" fill="#111111"/>
<circle cx="358.49" cy="418.28" r="1.7" fill="#111111"/>
<circle cx="349.30" cy="431.35" r="1.7" fill="#111111"/>
<circle cx="355.43" cy="431.35" r="1.7" fill="#111111"/>
<circle cx="361.56" cy="434.01" r="1.7" fill="#111111"/>
<circle cx="355.43" cy="436.06" r="1.7" fill="#111111"/>
<circle cx="355.43" cy="457.70" r="1.7" fill="#111111"/>
<line x1="344.00" y1="431.40" x2="367.10" y2="431.40" stroke="#111111" stroke-width="1.0" />
<circle cx="389.35" cy="391.09" r="1.6" fill="#e8407c"/>
<circle cx="389.35" cy="397.22" r="1.6" fill="#e8407c"/>
<circle cx="389.35" cy="401.72" r="1.6" fill="#e8407c"/>
<circle cx="389.35" cy="405.40" r="1.6" fill="#e8407c"/>
<circle cx="386.08" cy="415.62" r="1.6" fill="#e8407c"/>
<circle cx="392.62" cy="413.57" r="1.6" fill="#e8407c"/>
<circle cx="389.35" cy="419.09" r="1.6" fill="#e8407c"/>
<circle cx="389.35" cy="434.42" r="1.6" fill="#e8407c"/>
<line x1="377.90" y1="407.60" x2="400.80" y2="407.60" stroke="#e8407c" stroke-width="1.0" />
<text text-anchor="middle" transform="translate(298.00 419.00) rotate(-90) scale(0.948 1)"><tspan font-style="italic">S</tspan>. Tm Δ<tspan font-style="italic">invA</tspan> (CFUs per g)</text>
<text text-anchor="middle" transform="translate(308.50 419.00) rotate(-90) scale(0.948 1)">(log scale)</text>
<text style="font-weight:bold;font-size:9.8px;fill:#000;stroke:#000;stroke-width:0.45px" transform="translate(452.40 356.75) scale(1.18 1)">j</text>
<line x1="489.50" y1="353.90" x2="489.50" y2="467.40" stroke="#787878" stroke-width="0.75" />
<line x1="489.20" y1="467.40" x2="603.90" y2="467.40" stroke="#787878" stroke-width="0.75" />
<line x1="485.70" y1="467.40" x2="489.50" y2="467.40" stroke="#787878" stroke-width="0.75" />
<text text-anchor="end" transform="translate(482.50 470.70) scale(0.948 1)">0</text>
<line x1="485.70" y1="415.75" x2="489.50" y2="415.75" stroke="#787878" stroke-width="0.75" />
<text text-anchor="end" transform="translate(482.50 419.05) scale(0.948 1)">50</text>
<line x1="485.70" y1="364.10" x2="489.50" y2="364.10" stroke="#787878" stroke-width="0.75" />
<text text-anchor="end" transform="translate(482.50 367.40) scale(0.948 1)">100</text>
<line x1="489.50" y1="467.40" x2="489.50" y2="470.60" stroke="#787878" stroke-width="0.75" />
<text text-anchor="middle" transform="translate(489.50 482.00) scale(0.948 1)">0</text>
<line x1="527.50" y1="467.40" x2="527.50" y2="470.60" stroke="#787878" stroke-width="0.75" />
<text text-anchor="middle" transform="translate(527.50 482.00) scale(0.948 1)">5</text>
<line x1="565.50" y1="467.40" x2="565.50" y2="470.60" stroke="#787878" stroke-width="0.75" />
<text text-anchor="middle" transform="translate(565.50 482.00) scale(0.948 1)">10</text>
<line x1="603.50" y1="467.40" x2="603.50" y2="470.60" stroke="#787878" stroke-width="0.75" />
<text text-anchor="middle" transform="translate(603.50 482.00) scale(0.948 1)">15</text>
<text text-anchor="middle" transform="translate(546.50 494.70) scale(0.948 1)">Time (dpi)</text>
<text text-anchor="middle" transform="translate(459.50 410.00) rotate(-90) scale(0.948 1)">Recipient survival (%)</text>
<path d="M489.50,364.10L527.50,364.10L527.50,387.03L535.10,387.03L535.10,433.00L542.70,433.00L542.70,455.93L557.90,455.93L557.90,467.40" stroke="#e8407c" stroke-width="1.1" fill="none" stroke-linejoin="miter"/>
<path d="M489.50,364.10L535.10,364.10L535.10,374.43L542.70,374.43L542.70,395.09L550.30,395.09L550.30,426.08L557.90,426.08L557.90,436.41L565.50,436.41L565.50,457.07L573.10,457.07L573.10,467.40" stroke="#111111" stroke-width="1.25" fill="none" stroke-linejoin="miter"/>
<text transform="translate(569.90 394.20) scale(0.948 1)" textLength="70.99" lengthAdjust="spacing">Donor treatment</text>
<line x1="564.00" y1="404.00" x2="572.60" y2="404.00" stroke="#111111" stroke-width="1.3" />
<line x1="568.30" y1="404.00" x2="568.30" y2="401.50" stroke="#111111" stroke-width="0.9" />
<text transform="translate(577.70 406.80) scale(0.948 1)" textLength="53.69" lengthAdjust="spacing">PBS (<tspan font-style="italic">n</tspan> = 10)</text>
<line x1="564.00" y1="416.20" x2="572.60" y2="416.20" stroke="#e8407c" stroke-width="1.3" />
<line x1="568.30" y1="416.20" x2="568.30" y2="413.70" stroke="#e8407c" stroke-width="0.9" />
<text transform="translate(577.70 419.30) scale(0.948 1)" textLength="61.71" lengthAdjust="spacing">Digoxin (<tspan font-style="italic">n</tspan> = 9)</text>
<line x1="640.50" y1="396.80" x2="640.50" y2="421.50" stroke="#1a1a1a" stroke-width="1.1" />
<text transform="translate(644.10 413.00) scale(0.948 1)" textLength="40.93" lengthAdjust="spacing"><tspan font-style="italic">P</tspan> = 0.005</text>
</svg>
</body>
</html>
